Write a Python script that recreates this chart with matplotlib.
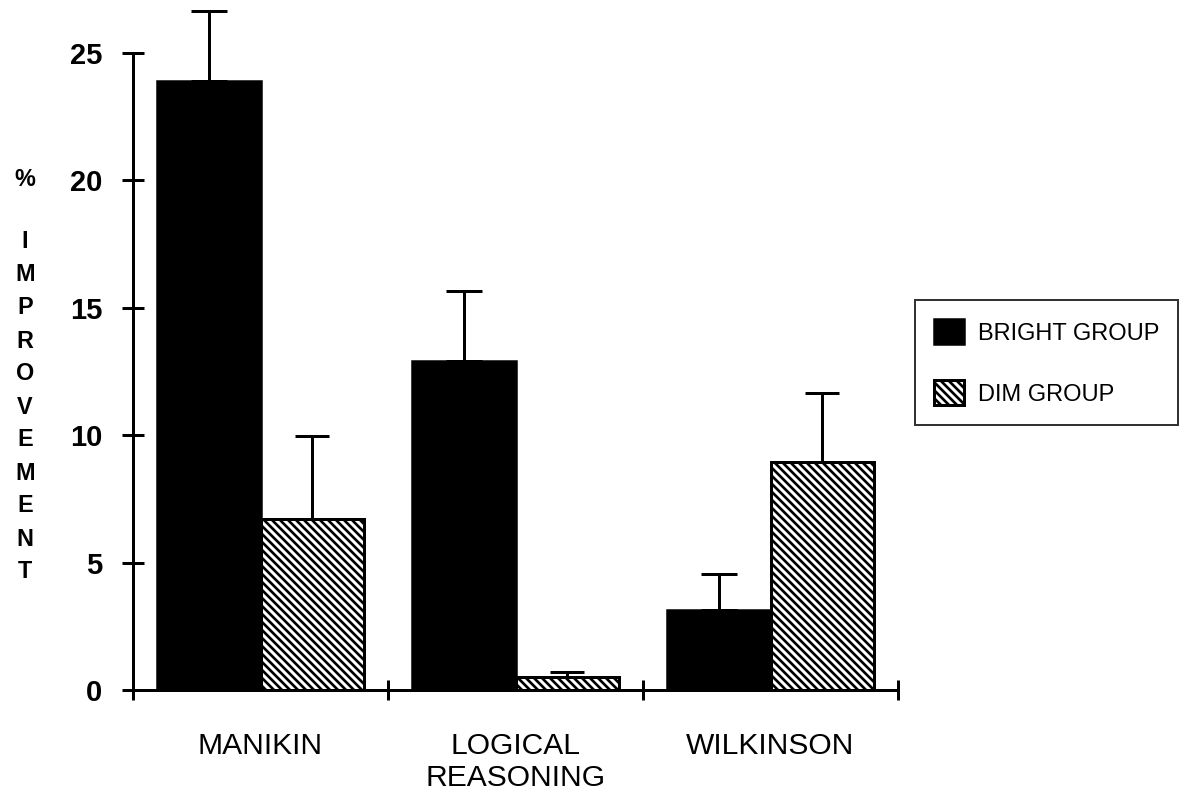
import numpy as np
import matplotlib
matplotlib.use("Agg")
import matplotlib.pyplot as plt

# данные
categories = ["MANIKIN", "LOGICAL\nREASONING", "WILKINSON"]
bright = [23.9, 12.9, 3.15]
bright_err = [2.75, 2.75, 1.4]
dim = [6.7, 0.5, 8.95]
dim_err = [3.25, 0.2, 2.7]
series_names = ["BRIGHT GROUP", "DIM GROUP"]
ylabel = "% IMPROVEMENT"

plt.rcParams['font.family'] = ['Liberation Sans', 'DejaVu Sans']
plt.rcParams['hatch.linewidth'] = 1.6
plt.rcParams['hatch.color'] = 'black'

W, H = 1192, 795
fig = plt.figure(figsize=(W / 120, H / 120), dpi=120)
ax = fig.add_axes([133 / W, 1 - 690 / H, 765 / W, 637 / H])

x = np.arange(len(categories)) + 0.5
w = 0.404

ax.bar(x - w / 2, bright, w, color='black', edgecolor='black', linewidth=1.5,
       label=series_names[0], zorder=2)
ax.bar(x + w / 2, dim, w, color='white', edgecolor='black', linewidth=1.8,
       hatch='\\' * 5, label=series_names[1], zorder=2)

# только верхние планки погрешностей
eb1 = ax.errorbar(x - w / 2, bright, yerr=[np.zeros(3), bright_err], fmt='none',
                  ecolor='black', elinewidth=1.8, capsize=11, capthick=1.8, zorder=1)
eb2 = ax.errorbar(x + w / 2, dim, yerr=[np.zeros(3), dim_err], fmt='none',
                  ecolor='black', elinewidth=1.8, capsize=10, capthick=1.8, zorder=1)
for eb in (eb1, eb2):
    for art in eb.lines[1] + eb.lines[2]:
        art.set_clip_on(False)

ax.set_xlim(0, 3)
ax.set_ylim(0, 25)
for s in ['top', 'right']:
    ax.spines[s].set_visible(False)
ax.spines['left'].set_linewidth(1.8)
ax.spines['bottom'].set_linewidth(1.8)

ax.set_yticks([0, 5, 10, 15, 20, 25])
ax.tick_params(axis='y', direction='inout', length=13, width=1.8, pad=12,
               labelsize=17.5)
for t in ax.get_yticklabels():
    t.set_fontweight('bold')

ax.set_xticks([0, 1, 2, 3])
ax.set_xticklabels([])
ax.set_xticks(x, minor=True)
ax.set_xticklabels(categories, minor=True, fontsize=18, linespacing=1.2)
ax.tick_params(axis='x', which='major', direction='inout', length=12, width=1.8)
ax.tick_params(axis='x', which='minor', length=0, pad=25)

# вертикальная подпись оси Y буквами в столбик
letters = ylabel.replace(" ", "")
fig.text(25 / W, 1 - 180 / H, letters[0], ha='center', va='center',
         fontsize=14, fontweight='bold')
for i, ch in enumerate(letters[1:]):
    fig.text(25 / W, 1 - (242 + 33 * i) / H, ch, ha='center', va='center',
             fontsize=14, fontweight='bold')

leg = ax.legend(loc='upper left', bbox_to_anchor=((915 - 133) / 765, (690 - 300) / 637),
                borderaxespad=0, fontsize=14.2, frameon=True, fancybox=False,
                edgecolor='black', handlelength=1.27, handleheight=1.27,
                handletextpad=0.6, labelspacing=1.5, borderpad=0.8)
leg.get_frame().set_linewidth(1.2)

fig.savefig("out.png", dpi=120)
